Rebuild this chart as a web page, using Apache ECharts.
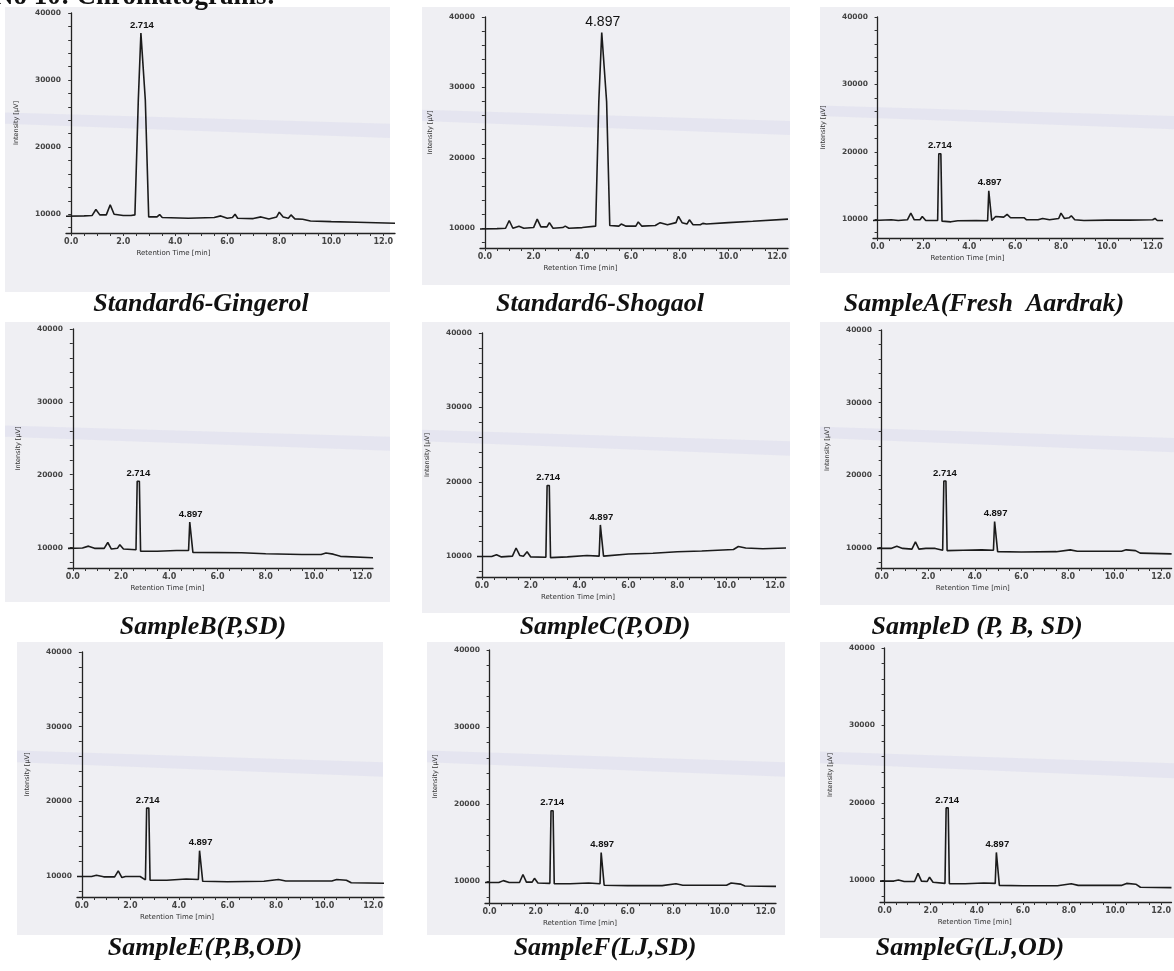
<!DOCTYPE html>
<html>
<head>
<meta charset="utf-8">
<script src="https://cdn.jsdelivr.net/npm/echarts@6/dist/echarts.min.js"></script>
<style>
  html, body { margin: 0; padding: 0; background: #fff; }
  #main { width: 1174px; height: 971px; }
</style>
</head>
<body>
<div id="main"></div>
<script>
// ==================== 数据 ====================
// [retention time (min), intensity (µV)]
const gingerolStd = [[-0.2,9700],[0.5,9750],[0.8,9800],[0.95,10700],[1.1,9900],[1.35,9900],[1.5,11400],[1.65,10000],[2.0,9800],[2.3,9800],[2.45,9900],[2.58,27000],[2.68,37000],[2.75,37000],[2.85,27000],[2.98,9600],[3.3,9600],[3.4,9950],[3.5,9500],[4.5,9400],[5.5,9500],[5.75,9750],[6.0,9400],[6.2,9500],[6.3,10000],[6.4,9400],[7.0,9350],[7.3,9600],[7.6,9300],[7.9,9600],[8.0,10300],[8.15,9600],[8.35,9400],[8.45,9900],[8.6,9300],[8.9,9250],[9.2,9000],[10,8900],[11,8800],[12.45,8650]]
const shogaolStd = [[-0.2,9900],[0.5,9950],[0.85,10000],[1.0,11100],[1.15,10000],[1.4,10300],[1.6,10000],[2.0,10100],[2.15,11300],[2.3,10200],[2.55,10200],[2.65,10800],[2.8,10000],[3.2,10100],[3.3,10300],[3.45,10000],[4.0,10100],[4.55,10300],[4.68,28000],[4.8,37800],[4.88,37800],[5.0,28000],[5.13,10400],[5.5,10300],[5.6,10600],[5.8,10300],[6.2,10300],[6.3,10900],[6.45,10300],[7.0,10400],[7.2,10800],[7.5,10500],[7.85,10800],[7.95,11700],[8.1,10800],[8.3,10600],[8.4,11200],[8.55,10500],[8.85,10500],[8.95,10700],[9.1,10600],[10,10800],[11,11000],[12.45,11300]]
const sampleA = [[-0.2,9800],[0.6,9900],[0.9,9800],[1.3,9900],[1.45,10900],[1.6,9900],[1.85,9900],[1.95,10400],[2.1,9800],[2.62,9800],[2.67,19700],[2.76,19700],[2.81,9700],[3.2,9600],[3.5,9750],[4.3,9800],[4.8,9750],[4.85,14200],[4.93,14200],[4.98,9800],[5.15,10400],[5.5,10300],[5.65,10700],[5.8,10200],[6.4,10200],[6.5,9900],[7.0,9900],[7.2,10100],[7.5,9900],[7.9,10100],[8.0,10900],[8.15,10100],[8.35,10200],[8.45,10500],[8.6,9900],[9,9800],[10,9850],[11,9850],[12,9900],[12.1,10100],[12.2,9800],[12.45,9800]]
const sampleB = [[-0.2,9900],[0.4,9950],[0.65,10200],[0.9,9900],[1.3,9900],[1.45,10700],[1.6,9800],[1.85,9900],[1.95,10400],[2.1,9800],[2.62,9700],[2.67,19100],[2.76,19100],[2.81,9500],[3.5,9500],[4.3,9600],[4.8,9600],[4.85,13500],[4.93,13500],[4.98,9350],[5,9400],[7,9300],[8,9150],[9.5,9050],[10.3,9050],[10.5,9250],[10.8,9100],[11.1,8800],[12.45,8600]]
const sampleC = [[-0.2,9950],[0.4,9950],[0.6,10200],[0.8,9900],[1.25,10000],[1.4,11100],[1.55,10100],[1.7,10000],[1.85,10600],[2.0,9900],[2.62,9850],[2.67,19500],[2.76,19500],[2.81,9800],[3.5,9900],[4.3,10100],[4.8,10000],[4.85,14200],[4.93,14200],[4.98,10000],[6,10300],[7,10400],[8,10600],[9,10700],[10.3,10900],[10.5,11300],[10.8,11100],[11.5,11000],[12.45,11100]]
const sampleD = [[-0.2,9900],[0.4,9900],[0.65,10200],[0.9,9900],[1.3,9800],[1.45,10800],[1.6,9800],[1.9,9900],[2.3,9900],[2.62,9650],[2.67,19200],[2.76,19200],[2.81,9600],[3.5,9650],[4.3,9700],[4.8,9650],[4.85,13600],[4.93,13600],[4.98,9450],[6,9400],[7.5,9450],[8.1,9700],[8.4,9500],[10.3,9500],[10.5,9700],[10.9,9600],[11.1,9250],[12.45,9150]]
const sampleE = [[-0.2,9950],[0.4,9950],[0.6,10100],[0.9,9900],[1.35,9900],[1.5,10700],[1.65,9800],[1.8,9950],[2.4,9950],[2.62,9500],[2.67,19100],[2.76,19100],[2.81,9450],[3.5,9450],[4.3,9600],[4.8,9550],[4.85,13400],[4.93,13400],[4.98,9300],[6,9250],[7.5,9300],[8.1,9550],[8.4,9350],[10.3,9350],[10.5,9550],[10.9,9450],[11.1,9100],[12.45,9050]]
const sampleF = [[-0.2,9850],[0.4,9850],[0.6,10100],[0.85,9850],[1.3,9850],[1.45,10900],[1.6,9900],[1.85,9900],[1.95,10400],[2.1,9800],[2.62,9750],[2.67,19150],[2.76,19150],[2.81,9700],[3.5,9700],[4.3,9800],[4.8,9700],[4.85,13750],[4.93,13750],[4.98,9500],[6,9450],[7.5,9450],[8.1,9700],[8.4,9500],[10.3,9500],[10.5,9800],[10.9,9650],[11.1,9400],[12.45,9350]]
const sampleG = [[-0.2,9900],[0.4,9900],[0.6,10050],[0.85,9850],[1.3,9850],[1.45,10900],[1.6,9900],[1.85,9850],[1.95,10400],[2.1,9750],[2.62,9600],[2.67,19350],[2.76,19350],[2.81,9550],[3.5,9550],[4.3,9650],[4.8,9600],[4.85,13600],[4.93,13600],[4.98,9350],[6,9300],[7.5,9300],[8.1,9550],[8.4,9350],[10.3,9350],[10.5,9600],[10.9,9500],[11.1,9100],[12.45,9050]]

const captions = ['Standard6-Gingerol', 'Standard6-Shogaol', 'SampleA(Fresh  Aardrak)', 'SampleB(P,SD)', 'SampleC(P,OD)', 'SampleD (P, B, SD)', 'SampleE(P,B,OD)', 'SampleF(LJ,SD)', 'SampleG(LJ,OD)']
const peakTimes = [[2.714], [4.897], [2.714, 4.897], [2.714, 4.897], [2.714, 4.897], [2.714, 4.897], [2.714, 4.897], [2.714, 4.897], [2.714, 4.897]]
const xLabelValues = [0, 2, 4, 6, 8, 10, 12]
const xTickValues = [0, 0.5, 1, 1.5, 2, 2.5, 3, 3.5, 4, 4.5, 5, 5.5, 6, 6.5, 7, 7.5, 8, 8.5, 9, 9.5, 10, 10.5, 11, 11.5, 12]
const yLabelValues = [10000, 20000, 30000, 40000]
const yTickValues = [8000, 10000, 12000, 14000, 16000, 18000, 20000, 22000, 24000, 26000, 28000, 30000, 32000, 34000, 36000, 38000, 40000]
const traces = [gingerolStd, shogaolStd, sampleA, sampleB, sampleC, sampleD, sampleE, sampleF, sampleG]

// ==================== 版面 ====================
// bg: 扫描底色框 [x, y, w, h]; grid: 坐标区; cap: 标题中心 x / 基线 y
const layout = [
  { bg: [5, 7, 385, 285], grid: { left: 66, top: 13, width: 329, height: 220 }, cap: [201, 317] },
  { bg: [422, 7, 368, 278], grid: { left: 480, top: 17, width: 308, height: 231 }, cap: [600, 317] },
  { bg: [820, 7, 354, 266], grid: { left: 873, top: 17, width: 290, height: 221 }, cap: [984, 317] },
  { bg: [5, 322, 385, 280], grid: { left: 68, top: 329, width: 305, height: 239 }, cap: [203, 640] },
  { bg: [422, 322, 368, 291], grid: { left: 477, top: 333, width: 309, height: 244 }, cap: [605, 640] },
  { bg: [820, 322, 354, 283], grid: { left: 877, top: 330, width: 297, height: 238 }, cap: [977, 640] },
  { bg: [17, 642, 366, 293], grid: { left: 77, top: 652, width: 307, height: 245 }, cap: [205, 961] },
  { bg: [427, 642, 358, 293], grid: { left: 485, top: 650, width: 291, height: 253 }, cap: [605, 961] },
  { bg: [820, 642, 354, 296], grid: { left: 880, top: 648, width: 294, height: 254 }, cap: [970, 961] }
]

const chart = echarts.init(document.getElementById('main'), null, { renderer: 'canvas' })

const grids = [], xAxes = [], yAxes = [], series = [], graphics = []

// 图号标题（扫描时顶部被裁切）
graphics.push({
  type: 'text', left: -6, top: -16, z: 10,
  style: { text: 'No 10: Chromatograms:', font: 'bold 27px "Liberation Serif", serif', fill: '#111' }
})

layout.forEach((p, i) => {
  const [bx, by, bw, bh] = p.bg
  graphics.push({ type: 'rect', z: -10, shape: { x: bx, y: by, width: bw, height: bh }, style: { fill: '#efeff3' } })
  // 扫描留下的淡紫色条纹
  graphics.push({
    type: 'polygon', z: -9,
    shape: { points: [[bx, by + bh * 0.37], [bx + bw, by + bh * 0.41], [bx + bw, by + bh * 0.46], [bx, by + bh * 0.41]] },
    style: { fill: 'rgba(205,205,235,0.28)' }
  })
  graphics.push({
    type: 'text', z: 10, x: p.cap[0], y: p.cap[1],
    style: {
      text: captions[i], font: 'italic bold 26px "Liberation Serif", serif',
      fill: '#111', align: 'center', verticalAlign: 'bottom'
    }
  })

  grids.push(p.grid)
  const scale = p.grid.width / 12.65
  xAxes.push({
    gridIndex: i, type: 'value', min: -0.2, max: 12.45,
    axisLine: { lineStyle: { color: '#222', width: 1.3 } },
    axisTick: { customValues: xTickValues, length: 3, lineStyle: { color: '#333' } },
    axisLabel: {
      customValues: xLabelValues, formatter: (v) => v.toFixed(1),
      fontSize: 8, fontWeight: 'bold', color: '#444', margin: 5, fontFamily: 'DejaVu Sans'
    },
    splitLine: { show: false },
    name: 'Retention Time [min]', nameLocation: 'middle', nameGap: 17,
    nameTextStyle: { fontSize: 7, color: '#333', fontFamily: 'DejaVu Sans', padding: [0, Math.round(4.4 * scale), 0, 0] }
  })
  yAxes.push({
    gridIndex: i, type: 'value', min: 7200, max: 40000,
    axisLine: { show: true, lineStyle: { color: '#222', width: 1.3 } },
    axisTick: { show: true, customValues: yTickValues, length: 3, lineStyle: { color: '#333' } },
    axisLabel: {
      customValues: yLabelValues, formatter: (v) => String(v),
      fontSize: 7.5, fontWeight: 'bold', color: '#444', margin: 5, fontFamily: 'DejaVu Sans'
    },
    splitLine: { show: false },
    name: 'Intensity [µV]', nameLocation: 'middle', nameGap: 46,
    nameTextStyle: { fontSize: 6.5, color: '#333', fontFamily: 'DejaVu Sans' }
  })

  const data = traces[i]
  const marks = peakTimes[i].map((t) => {
    const near = data.filter((d) => Math.abs(d[0] - t) < 0.2)
    const top = Math.max(...near.map((d) => d[1]))
    const apex = near.filter((d) => d[1] === top)
    const tc = (apex[0][0] + apex[apex.length - 1][0]) / 2
    return { coord: [tc, top], value: t.toFixed(3) }
  })
  series.push({
    type: 'line', xAxisIndex: i, yAxisIndex: i, data,
    symbol: 'none', animation: false, silent: true,
    lineStyle: { color: '#1b1b1b', width: 1.6 },
    markPoint: {
      symbol: 'circle', symbolSize: 0, animation: false,
      label: {
        show: true, position: 'top', distance: 3, formatter: '{c}',
        color: '#111', fontFamily: i === 1 ? '"Liberation Sans Narrow", "Liberation Sans", sans-serif' : '"Liberation Sans", sans-serif',
        fontWeight: i === 1 ? 'normal' : 'bold', fontSize: i === 1 ? 14 : 9.5
      },
      data: marks
    }
  })
})

chart.setOption({
  backgroundColor: '#fff',
  animation: false,
  grid: grids,
  xAxis: xAxes,
  yAxis: yAxes,
  series,
  graphic: graphics
})
</script>
</body>
</html>
